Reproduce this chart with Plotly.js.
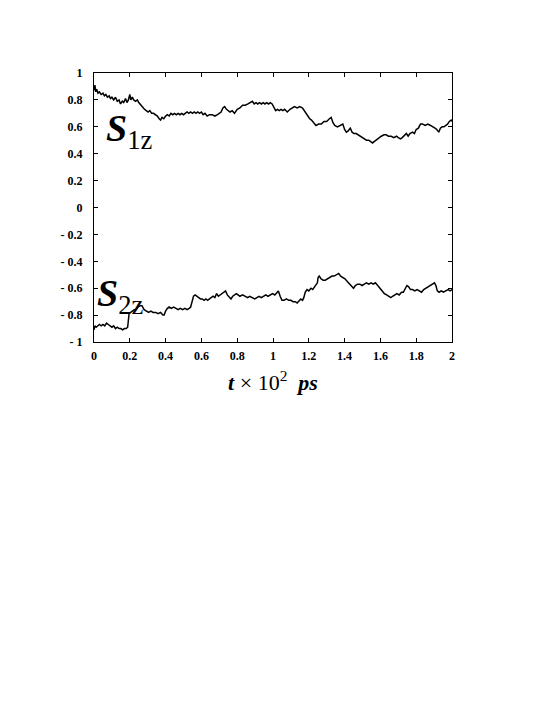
<!DOCTYPE html>
<html>
<head>
<meta charset="utf-8">
<script src="https://cdn.plot.ly/plotly-3.0.1.min.js"></script>
<style>html,body{margin:0;padding:0;background:#fff;}#chart{width:545px;height:705px;}</style>
</head>
<body>
<div id="chart"></div>
<script>
const s1T = [0.000,0.005,0.010,0.015,0.022,0.030,0.040,0.050,0.058,0.066,0.075,0.085,0.092,0.100,0.110,0.120,0.130,0.140,0.148,0.158,0.166,0.176,0.184,0.192,0.200,0.206,0.214,0.222,0.232,0.242,0.250,0.262,0.272,0.282,0.292,0.302,0.312,0.322,0.332,0.344,0.354,0.364,0.372,0.380,0.390,0.400,0.410,0.420,0.430,0.440,0.450,0.460,0.470,0.480,0.490,0.500,0.510,0.520,0.530,0.540,0.550,0.560,0.570,0.580,0.590,0.600,0.610,0.620,0.632,0.645,0.660,0.675,0.690,0.700,0.710,0.720,0.730,0.740,0.750,0.760,0.772,0.785,0.800,0.815,0.830,0.845,0.860,0.875,0.885,0.895,0.905,0.915,0.925,0.935,0.945,0.955,0.965,0.975,0.985,0.995,1.005,1.015,1.025,1.035,1.045,1.055,1.065,1.080,1.095,1.110,1.120,1.135,1.150,1.165,1.175,1.185,1.195,1.205,1.215,1.225,1.240,1.255,1.270,1.285,1.300,1.315,1.325,1.335,1.345,1.360,1.375,1.390,1.400,1.410,1.420,1.432,1.442,1.452,1.465,1.478,1.490,1.500,1.510,1.522,1.535,1.548,1.556,1.565,1.575,1.590,1.605,1.620,1.632,1.645,1.660,1.675,1.690,1.700,1.712,1.722,1.735,1.745,1.755,1.765,1.780,1.790,1.800,1.812,1.824,1.835,1.850,1.865,1.880,1.895,1.905,1.915,1.926,1.935,1.945,1.955,1.965,1.975,1.985,1.995,2.000];
const s1V = [0.87,0.91,0.86,0.88,0.85,0.86,0.84,0.85,0.83,0.84,0.82,0.83,0.81,0.82,0.80,0.82,0.79,0.80,0.77,0.79,0.78,0.81,0.78,0.80,0.84,0.80,0.82,0.80,0.79,0.80,0.78,0.76,0.74,0.73,0.72,0.71,0.72,0.70,0.70,0.69,0.68,0.66,0.65,0.67,0.66,0.68,0.69,0.68,0.70,0.69,0.70,0.69,0.70,0.69,0.70,0.69,0.70,0.71,0.70,0.71,0.70,0.71,0.70,0.71,0.70,0.71,0.69,0.70,0.68,0.69,0.69,0.68,0.69,0.70,0.71,0.74,0.75,0.73,0.72,0.71,0.72,0.70,0.73,0.74,0.76,0.76,0.77,0.78,0.79,0.77,0.78,0.77,0.78,0.77,0.78,0.77,0.78,0.77,0.78,0.77,0.74,0.72,0.73,0.72,0.73,0.72,0.73,0.71,0.73,0.74,0.75,0.74,0.75,0.74,0.72,0.69,0.68,0.66,0.65,0.63,0.61,0.62,0.62,0.64,0.64,0.66,0.67,0.63,0.61,0.60,0.61,0.62,0.58,0.56,0.57,0.59,0.56,0.55,0.55,0.54,0.53,0.52,0.51,0.50,0.50,0.49,0.48,0.49,0.50,0.52,0.53,0.54,0.54,0.53,0.53,0.52,0.53,0.52,0.51,0.52,0.54,0.55,0.53,0.55,0.56,0.55,0.58,0.59,0.62,0.62,0.61,0.62,0.61,0.60,0.59,0.58,0.56,0.59,0.60,0.60,0.61,0.62,0.64,0.65,0.64];

const s2T = [0.000,0.005,0.012,0.020,0.030,0.040,0.050,0.060,0.070,0.080,0.090,0.100,0.110,0.120,0.130,0.140,0.150,0.160,0.170,0.180,0.188,0.192,0.196,0.205,0.215,0.225,0.235,0.245,0.258,0.268,0.280,0.292,0.305,0.318,0.330,0.345,0.358,0.372,0.385,0.392,0.400,0.410,0.420,0.432,0.445,0.458,0.470,0.482,0.495,0.508,0.520,0.532,0.540,0.548,0.556,0.565,0.575,0.585,0.595,0.605,0.615,0.625,0.635,0.645,0.655,0.665,0.675,0.685,0.695,0.705,0.715,0.725,0.735,0.745,0.755,0.765,0.775,0.785,0.795,0.805,0.815,0.830,0.845,0.858,0.870,0.885,0.898,0.910,0.922,0.935,0.948,0.960,0.972,0.985,0.998,1.010,1.020,1.030,1.040,1.050,1.062,1.075,1.088,1.100,1.112,1.125,1.135,1.145,1.155,1.165,1.172,1.180,1.190,1.200,1.212,1.222,1.232,1.242,1.248,1.252,1.258,1.268,1.280,1.292,1.305,1.318,1.330,1.342,1.355,1.367,1.378,1.390,1.402,1.415,1.428,1.440,1.450,1.460,1.472,1.485,1.498,1.510,1.522,1.535,1.548,1.560,1.572,1.585,1.598,1.610,1.622,1.635,1.648,1.658,1.668,1.680,1.692,1.705,1.718,1.728,1.738,1.748,1.758,1.768,1.780,1.792,1.805,1.818,1.830,1.842,1.855,1.868,1.880,1.892,1.902,1.910,1.918,1.928,1.940,1.952,1.965,1.978,1.990,2.000];
const s2V = [-0.91,-0.88,-0.89,-0.88,-0.87,-0.88,-0.87,-0.88,-0.86,-0.87,-0.88,-0.89,-0.88,-0.90,-0.89,-0.90,-0.90,-0.91,-0.90,-0.90,-0.89,-0.82,-0.79,-0.78,-0.77,-0.76,-0.76,-0.74,-0.73,-0.73,-0.76,-0.77,-0.78,-0.77,-0.78,-0.78,-0.79,-0.78,-0.80,-0.80,-0.77,-0.75,-0.74,-0.75,-0.74,-0.75,-0.76,-0.75,-0.76,-0.75,-0.76,-0.75,-0.74,-0.70,-0.66,-0.65,-0.66,-0.67,-0.68,-0.68,-0.69,-0.68,-0.69,-0.68,-0.67,-0.66,-0.67,-0.64,-0.66,-0.65,-0.64,-0.63,-0.62,-0.65,-0.67,-0.68,-0.66,-0.65,-0.64,-0.65,-0.66,-0.65,-0.66,-0.67,-0.66,-0.67,-0.68,-0.67,-0.66,-0.67,-0.66,-0.65,-0.66,-0.65,-0.64,-0.65,-0.63,-0.62,-0.66,-0.69,-0.69,-0.68,-0.69,-0.69,-0.70,-0.70,-0.71,-0.69,-0.68,-0.69,-0.67,-0.63,-0.61,-0.62,-0.60,-0.61,-0.59,-0.57,-0.56,-0.52,-0.51,-0.53,-0.54,-0.54,-0.53,-0.52,-0.51,-0.51,-0.50,-0.49,-0.51,-0.52,-0.53,-0.55,-0.57,-0.59,-0.60,-0.58,-0.57,-0.57,-0.58,-0.57,-0.56,-0.57,-0.56,-0.57,-0.56,-0.58,-0.60,-0.62,-0.64,-0.65,-0.66,-0.67,-0.66,-0.65,-0.64,-0.65,-0.63,-0.63,-0.61,-0.58,-0.59,-0.61,-0.61,-0.62,-0.61,-0.62,-0.63,-0.61,-0.60,-0.59,-0.58,-0.57,-0.56,-0.58,-0.62,-0.63,-0.62,-0.63,-0.62,-0.61,-0.62,-0.61];

const xTickVals = [0,0.2,0.4,0.6,0.8,1,1.2,1.4,1.6,1.8,2];
const xTickText = ['0','0.2','0.4','0.6','0.8','1','1.2','1.4','1.6','1.8','2'];
const yTickVals = [-1,-0.8,-0.6,-0.4,-0.2,0,0.2,0.4,0.6,0.8,1];
const yTickText = ['- 1','- 0.8','- 0.6','- 0.4','- 0.2','0','0.2','0.4','0.6','0.8','1'];

const serif = 'Liberation Serif, Times New Roman, serif';
const tickFont = {family: serif, size: 12, color: '#000', weight: 'bold'};

const traces = [
  {x: s1T, y: s1V, type: 'scatter', mode: 'lines', line: {color: '#000', width: 1.5}, hoverinfo: 'skip'},
  {x: s2T, y: s2V, type: 'scatter', mode: 'lines', line: {color: '#000', width: 1.5}, hoverinfo: 'skip'}
];

const layout = {
  width: 545, height: 705,
  margin: {l: 94, r: 93, t: 73, b: 363},
  paper_bgcolor: '#fff', plot_bgcolor: '#fff',
  showlegend: false,
  xaxis: {
    range: [0, 2], tickvals: xTickVals, ticktext: xTickText,
    ticks: 'inside', ticklen: 4, tickcolor: '#000', tickwidth: 1,
    showline: true, linecolor: '#000', linewidth: 1, mirror: 'ticks',
    showgrid: false, zeroline: false, tickfont: tickFont, ticklabelstandoff: 3,
    title: {text: '<b><i>t</i></b> × 10<sup>2</sup>  <b><i>ps</i></b>', font: {family: serif, size: 22, color: '#000'}, standoff: 12}
  },
  yaxis: {
    range: [-1, 1], tickvals: yTickVals, ticktext: yTickText,
    ticks: 'inside', ticklen: 4, tickcolor: '#000', tickwidth: 1,
    showline: true, linecolor: '#000', linewidth: 1, mirror: 'ticks',
    showgrid: false, zeroline: false, tickfont: tickFont, ticklabelstandoff: 8
  },
  annotations: [
    {x: 0.055, y: 0.57, xref: 'x', yref: 'y', xanchor: 'left', yanchor: 'middle', showarrow: false,
     text: '<b><i>S</i></b><sub>1z</sub>', font: {family: serif, size: 38, color: '#000'}},
    {x: 0.005, y: -0.66, xref: 'x', yref: 'y', xanchor: 'left', yanchor: 'middle', showarrow: false,
     text: '<b><i>S</i></b><sub>2z</sub>', font: {family: serif, size: 38, color: '#000'}}
  ]
};

Plotly.newPlot('chart', traces, layout, {displayModeBar: false, staticPlot: true});
</script>
</body>
</html>
